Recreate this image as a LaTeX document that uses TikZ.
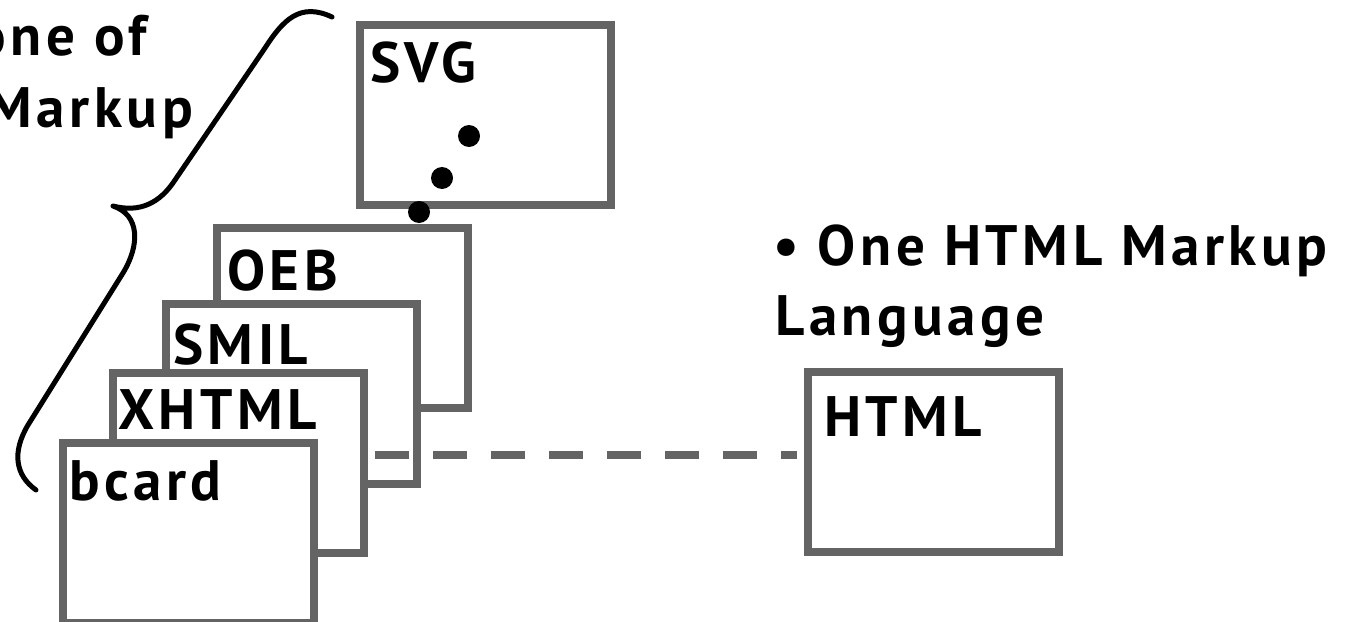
\documentclass[tikz,border=0pt]{standalone}
\usepackage{fontspec}
\setmainfont{PT Sans}[LetterSpace=8]
\definecolor{boxgray}{HTML}{646464}
\begin{document}
\begin{tikzpicture}[x=1pt,y=-1pt,
  box/.style={draw=boxgray, line width=8pt, fill=white, minimum width=251pt, minimum height=180pt, inner sep=0pt, outer sep=0pt},
  lbl/.style={anchor=base west, inner sep=0pt, font=\fontsize{57}{68}\selectfont\bfseries},
  bigtxt/.style={anchor=base west, inner sep=0pt, font=\fontsize{57}{68}\selectfont\bfseries},
  lefttxt/.style={anchor=base east, inner sep=0pt, font=\fontsize{57}{68}\selectfont\bfseries},
  dashline/.style={draw=boxgray, line width=8pt, dash pattern=on 34pt off 24pt},
  dotnode/.style={circle, fill=black, minimum size=22pt, inner sep=0pt},
  bracepath/.style={draw=black, line width=5pt, line cap=round, line join=round}]
\useasboundingbox (0,0) rectangle (1351,621);
% brace
\draw[bracepath] (332,17) .. controls (300,2) and (283,20) .. (265,48) -- (175,180)
  .. controls (160,203) and (140,213) .. (113,206)
  .. controls (140,215) and (140,245) .. (123,273) -- (28,425)
  .. controls (12,452) and (15,475) .. (36,490);
% left text
\node[lefttxt] (t1) at (147,55) {one of};
\node[lefttxt] (t2) at (193,127) {Markup};
% boxes
\node[box] (svg) at (485.5,114.5) {};
\node[box] (oeb) at (342.5,318) {};
\node[box] (smil) at (291,393.5) {};
\node[box] (xhtml) at (238,462.5) {};
\node[box] (bcard) at (188.5,532.5) {};
\node[box] (html) at (933.5,462) {};
% labels
\node[lbl] (lsvg) at (370,82) {SVG};
\node[lbl] (loeb) at (227,290) {OEB};
\node[lbl] (lsmil) at (173,364) {SMIL};
\node[lbl] (lxhtml) at (118,429) {XHTML};
\node[lbl] (lbcard) at (69,500) {bcard};
\node[lbl] (lhtml) at (824,436) {HTML};
% dots
\node[dotnode] (d1) at (469,136) {};
\node[dotnode] (d2) at (442,178) {};
\node[dotnode] (d3) at (419,212) {};
% dashed connector
\draw[dashline] ([xshift=11.5pt,yshift=7.5pt]xhtml.east) -- ([xshift=-11pt,yshift=7pt]html.west);
% right text
\node[bigtxt] (r1) at (773,265) {• One HTML Markup};
\node[bigtxt] (r2) at (775,335) {Language};
\end{tikzpicture}
\end{document}
